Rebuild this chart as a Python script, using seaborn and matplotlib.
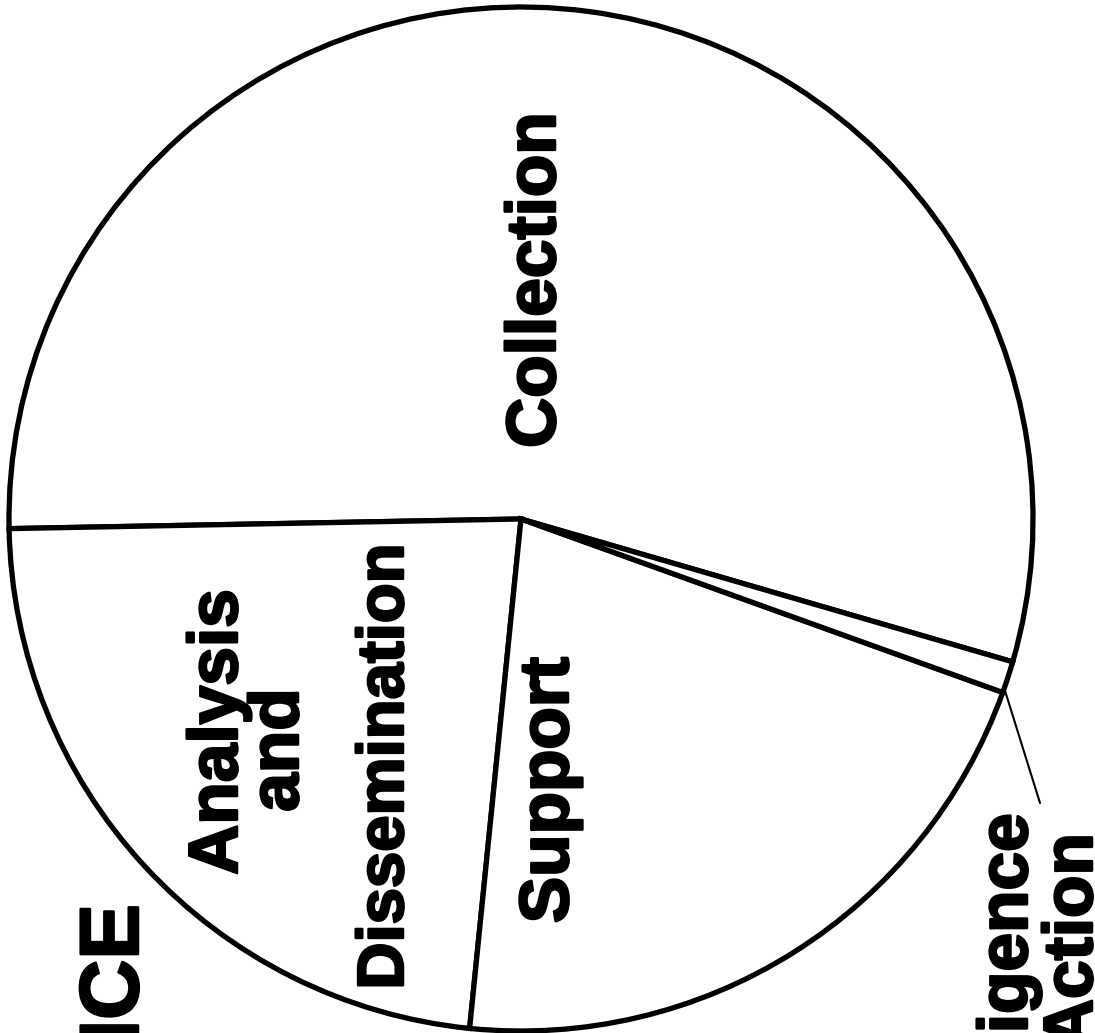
import matplotlib.pyplot as plt
import matplotlib.patheffects as pe
import seaborn as sns
import numpy as np

# pie shares (percent)
categories = ["Collection", "Analysis and Dissemination", "Support", "Action"]
shares = [54.8, 23.1, 21.1, 1.0]

# visible label text (the scan is rotated and cut at the edges)
title_text = "ICE"
collection_lbl = "Collection"
analysis_lbls = ["Analysis", "and", "Dissemination"]
support_lbl = "Support"
small_lbls = ["igence", "Action"]

sns.set_theme(style="white")
plt.rcParams['font.family'] = ['Liberation Sans', 'DejaVu Sans']

fig = plt.figure(figsize=(10.95, 10.33), dpi=100)
ax = fig.add_axes([0, 0, 1, 1])

wedges, _ = ax.pie(shares, startangle=-16.2, counterclock=True,
                   center=(521, 514), radius=512,
                   colors=['white'] * len(shares),
                   wedgeprops=dict(edgecolor='black', linewidth=3.8))
ax.set_xlim(0, 1095)
ax.set_ylim(0, 1033)
ax.axis('off')

# all text runs bottom to top; a thin stroke makes the heavy scanned type
kw = dict(rotation=90, rotation_mode='anchor', fontweight='bold',
          color='black', fontsize=50,
          path_effects=[pe.withStroke(linewidth=1.8, foreground='black')])

ax.text(555, 753, collection_lbl, ha='center', va='baseline', **kw)
ax.text(237, 301, analysis_lbls[0], ha='center', va='baseline', **kw)
ax.text(298, 283, analysis_lbls[1], ha='center', va='baseline', **kw)
ax.text(403, 266, analysis_lbls[2], ha='center', va='baseline',
        **{**kw, 'fontsize': 47})
ax.text(568, 243, support_lbl, ha='center', va='baseline', **kw)
ax.text(1027, 220, small_lbls[0], ha='right', va='baseline', **kw)
ax.text(1092, 200, small_lbls[1], ha='right', va='baseline', **kw)

ax.text(138, 129, title_text, ha='right', va='baseline',
        **{**kw, 'fontsize': 60})

# leader line from the thin slice to its label
w = wedges[3]
ang = np.deg2rad(w.theta1 + 0.5)
start = (w.center[0] + w.r * np.cos(ang), w.center[1] + w.r * np.sin(ang))
ax.annotate("", xy=start, xytext=(1040, 230),
            arrowprops=dict(arrowstyle='-', color='black', lw=1.5,
                            shrinkA=0, shrinkB=0))

fig.savefig('out.png', dpi=100)
